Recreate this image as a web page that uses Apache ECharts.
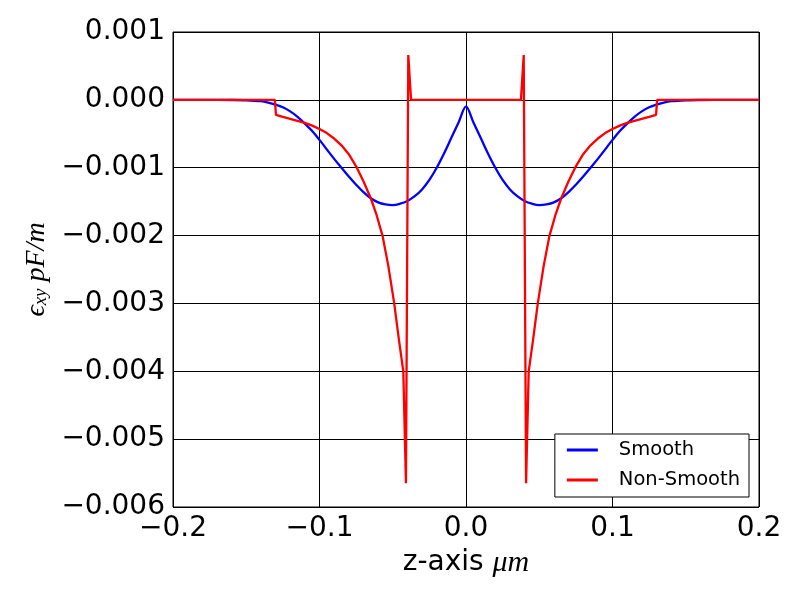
<!DOCTYPE html>
<html>
<head>
<meta charset="utf-8">
<script src="https://cdn.jsdelivr.net/npm/echarts@6/dist/echarts.min.js"></script>
<style>
html,body{margin:0;padding:0;background:#fff;}
#chart{width:800px;height:600px;}
</style>
</head>
<body>
<div id="chart"></div>
<script>
// Smooth series
const zSmooth = [-0.2,-0.18,-0.16,-0.15,-0.14,-0.135,-0.13,-0.125,-0.12,-0.115,-0.11,-0.105,-0.1,-0.095,-0.09,-0.085,-0.08,-0.075,-0.07,-0.065,-0.06,-0.055,-0.05,-0.045,-0.04,-0.035,-0.03,-0.025,-0.02,-0.015,-0.01,-0.005,0,
  0.005,0.01,0.015,0.02,0.025,0.03,0.035,0.04,0.045,0.05,0.055,0.06,0.065,0.07,0.075,0.08,0.085,0.09,0.095,0.1,0.105,0.11,0.115,0.12,0.125,0.13,0.135,0.14,0.15,0.16,0.18,0.2];
const vSmooth = [0,0,-0.000002,-0.000006,-0.00002,-0.00004,-0.00007,-0.00011,-0.00017,-0.00025,-0.00035,-0.00046,-0.00059,-0.00073,-0.00087,-0.001,-0.00113,-0.00125,-0.00136,-0.00145,-0.00151,-0.00154,-0.00155,-0.00153,-0.00149,-0.00142,-0.00132,-0.00118,-0.001,-0.00079,-0.00056,-0.00033,-0.0001,
  -0.00033,-0.00056,-0.00079,-0.001,-0.00118,-0.00132,-0.00142,-0.00149,-0.00153,-0.00155,-0.00154,-0.00151,-0.00145,-0.00136,-0.00125,-0.00113,-0.001,-0.00087,-0.00073,-0.00059,-0.00046,-0.00035,-0.00025,-0.00017,-0.00011,-0.00007,-0.00004,-0.00002,-0.000006,-0.000002,0,0];
// Non-smooth series
const zRough = [-0.2,-0.1305,-0.1297,-0.125,-0.12,-0.115,-0.11,-0.105,-0.1,-0.095,-0.09,-0.085,-0.08,-0.075,-0.07,-0.065,-0.061,-0.057,-0.053,-0.049,-0.046,-0.0428,-0.041,-0.0394,-0.0375,
  0.0375,0.0394,0.041,0.0428,0.046,0.049,0.053,0.057,0.061,0.065,0.07,0.075,0.08,0.085,0.09,0.095,0.1,0.105,0.11,0.115,0.12,0.125,0.1297,0.1305,0.2];
const vRough = [0,0,-0.00022,-0.00025,-0.00028,-0.00031,-0.00034,-0.00038,-0.00043,-0.00049,-0.00057,-0.00067,-0.0008,-0.00098,-0.0012,-0.00145,-0.0017,-0.002,-0.00245,-0.003,-0.0035,-0.004,-0.00565,0.00066,0,
  0,0.00066,-0.00565,-0.004,-0.0035,-0.003,-0.00245,-0.002,-0.0017,-0.00145,-0.0012,-0.00098,-0.0008,-0.00067,-0.00057,-0.00049,-0.00043,-0.00038,-0.00034,-0.00031,-0.00028,-0.00025,-0.00022,0,0];
const seriesNames = ['Smooth','Non-Smooth'];

const pairs = (xs, ys) => xs.map((x, i) => [x, ys[i]]);
const minus = '\u2212';
const chart = echarts.init(document.getElementById('chart'));
const sans = 'DejaVu Sans';
const serif = 'Liberation Serif';
chart.setOption({
  animation: false,
  backgroundColor: '#fff',
  grid: {left: 173, right: 41, top: 32, bottom: 93, show: true, borderColor: '#000', borderWidth: 1, backgroundColor: 'transparent'},
  xAxis: {
    type: 'value', min: -0.2, max: 0.2, interval: 0.1,
    axisLine: {show: false},
    axisTick: {show: false},
    splitLine: {show: true, lineStyle: {color: '#000', width: 1}},
    axisLabel: {
      color: '#000', fontFamily: sans, fontSize: 28, margin: 8,
      formatter: v => (v < -1e-9 ? minus : '') + Math.abs(v).toFixed(1)
    },
    name: '{a|z-axis }{b|\u03bcm}',
    nameLocation: 'middle', nameGap: 41,
    nameTextStyle: {
      rich: {
        a: {fontFamily: sans, fontSize: 28, color: '#000'},
        b: {fontFamily: serif, fontStyle: 'italic', fontSize: 30, color: '#000'}
      }
    }
  },
  yAxis: {
    type: 'value', min: -0.006, max: 0.001, interval: 0.001,
    axisLine: {show: false},
    axisTick: {show: false},
    splitLine: {show: true, lineStyle: {color: '#000', width: 1}},
    axisLabel: {
      color: '#000', fontFamily: sans, fontSize: 28, margin: 8,
      formatter: v => (v < -1e-9 ? minus : '') + Math.abs(v).toFixed(3)
    },
    name: '{e|\u03f5}{s|xy}{e| pF/m}',
    nameLocation: 'middle', nameGap: 120, nameRotate: 90,
    nameTextStyle: {
      rich: {
        e: {fontFamily: serif, fontStyle: 'italic', fontSize: 28, color: '#000', lineHeight: 30, verticalAlign: 'bottom'},
        s: {fontFamily: serif, fontStyle: 'italic', fontSize: 19, color: '#000', lineHeight: 30, verticalAlign: 'bottom', padding: [10, 0, 0, 0]}
      }
    }
  },
  legend: {
    data: seriesNames,
    orient: 'vertical',
    right: 51, bottom: 103,
    backgroundColor: '#fff', borderColor: '#000', borderWidth: 1, borderRadius: 0,
    padding: [6, 9, 7, 12],
    icon: 'rect', itemWidth: 31, itemHeight: 3, itemGap: 10,
    textStyle: {fontFamily: sans, fontSize: 19.5, color: '#000', lineHeight: 20, padding: [0, 0, 0, 16]}
  },
  series: [
    {name: seriesNames[0], type: 'line', data: pairs(zSmooth, vSmooth), showSymbol: false, smooth: 0.35,
     lineStyle: {color: '#0000ff', width: 2.3}, itemStyle: {color: '#0000ff'}},
    {name: seriesNames[1], type: 'line', data: pairs(zRough, vRough), showSymbol: false, smooth: false,
     lineStyle: {color: '#ff0000', width: 2.3}, itemStyle: {color: '#ff0000'}}
  ]
});
</script>
</body>
</html>
